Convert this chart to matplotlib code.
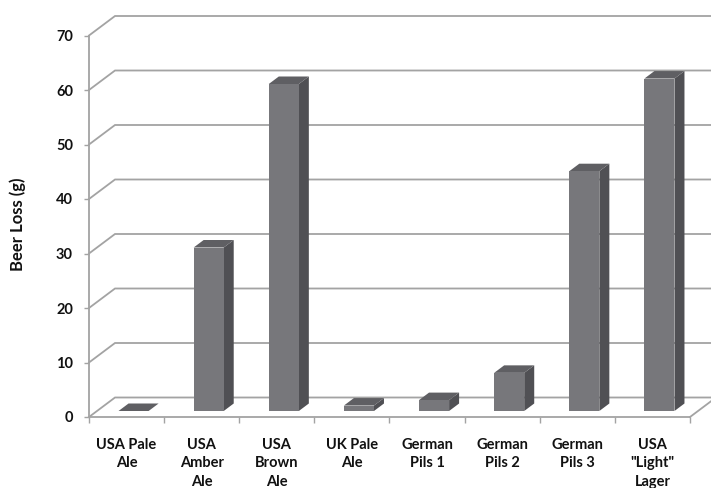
import numpy as np
import matplotlib
matplotlib.use('Agg')
import matplotlib.pyplot as plt
from matplotlib.patches import Polygon

# Beer loss per style
beers = ['USA Pale\nAle', 'USA\nAmber\nAle', 'USA\nBrown\nAle', 'UK Pale\nAle',
         'German\nPils 1', 'German\nPils 2', 'German\nPils 3', 'USA\n"Light"\nLager']
loss = [0, 30, 60, 1, 2, 7, 44, 61]
y_ticks = [0, 10, 20, 30, 40, 50, 60, 70]

W, H = 711, 488
plt.rcParams['font.family'] = ['Lato', 'DejaVu Sans']
plt.rcParams['font.weight'] = 'bold'

fig = plt.figure(figsize=(W / 100, H / 100), dpi=100)
ax = fig.add_axes([89 / W, 1 - 417 / H, 601 / W, 381.5 / H])
ax.set_xlim(0, 8)
ax.set_ylim(0, 70)

# oblique projection, in data units
wall_dx = 26 / 75.1
wall_dy = 19.5 / 5.45
bar_w = 0.4
bar_dx = 10 / 75.1
bar_dy = 7.5 / 5.45
base_dx = 7 / 75.1
base_dy = 6 / 5.45

grid_col = '#a3a3a3'
front_col = '#77777b'
side_col = '#505054'
top_col = '#5f5f63'

# wall gridlines with their slanted lead-in from the axis
for v in y_ticks:
    ax.plot([0, wall_dx, 8 + wall_dx], [v, v + wall_dy, v + wall_dy],
            color=grid_col, lw=1.3, clip_on=False, zorder=1, solid_joinstyle='miter')
ax.plot([8, 8 + wall_dx], [0, wall_dy], color=grid_col, lw=1.3, clip_on=False, zorder=1)

for i, v in enumerate(loss):
    x0 = i + 0.5 + base_dx - bar_w / 2
    x1 = x0 + bar_w
    b = base_dy
    t = base_dy + v
    # side and top first, front face goes over them
    ax.add_patch(Polygon([(x1, b), (x1 + bar_dx, b + bar_dy), (x1 + bar_dx, t + bar_dy), (x1, t)],
                         fc=side_col, ec='none', clip_on=False, zorder=3))
    ax.add_patch(Polygon([(x0, t), (x0 + bar_dx, t + bar_dy), (x1 + bar_dx, t + bar_dy), (x1, t)],
                         fc=top_col, ec='none', clip_on=False, zorder=3))
    if v > 0:
        ax.add_patch(Polygon([(x0, b), (x1, b), (x1, t), (x0, t)],
                             fc=front_col, ec='none', clip_on=False, zorder=4))

for s in ['top', 'right']:
    ax.spines[s].set_visible(False)
for s in ['left', 'bottom']:
    ax.spines[s].set_color(grid_col)
    ax.spines[s].set_linewidth(1.3)

ax.set_yticks(y_ticks)
ax.tick_params(axis='y', length=3.5, width=1, color=grid_col, labelsize=10.5, pad=8, labelcolor='#111111')
ax.set_xticks(np.arange(9))
ax.set_xticklabels([])
ax.tick_params(axis='x', which='major', length=4.5, width=1, color=grid_col)
ax.set_xticks(np.arange(8) + 0.5, labels=beers, minor=True)
ax.tick_params(axis='x', which='minor', length=0, labelsize=10.5, pad=15, labelcolor='#111111')
for lab in ax.get_xticklabels(minor=True):
    lab.set_linespacing(1.4)
    lab.set_verticalalignment('top')

fig.text(18 / W, 1 - 224 / H, 'Beer Loss (g)', rotation=90, ha='center', va='center',
         fontsize=12, color='#111111')

fig.savefig('out.png', dpi=100)
